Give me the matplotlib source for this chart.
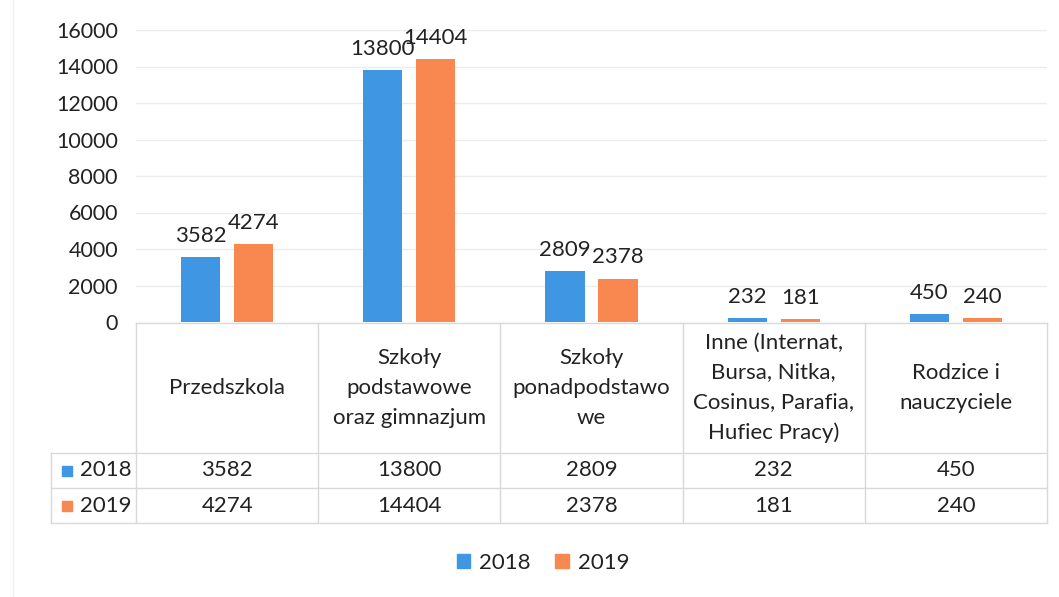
import numpy as np
import matplotlib.pyplot as plt
from matplotlib.patches import Patch
from matplotlib.lines import Line2D

plt.rcParams['font.family'] = ['Lato', 'DejaVu Sans']

categories = ['Przedszkola',
              'Szkoły\npodstawowe\noraz gimnazjum',
              'Szkoły\nponadpodstawo\nwe',
              'Inne (Internat,\nBursa, Nitka,\nCosinus, Parafia,\nHufiec Pracy)',
              'Rodzice i\nnauczyciele']
years = ['2018', '2019']
v2018 = [3582, 13800, 2809, 232, 450]
v2019 = [4274, 14404, 2378, 181, 240]
colors = ['#3f96e2', '#f8884f']
txt = '#222222'
fs = 16

W, H = 1059, 597
fig = plt.figure(figsize=(W / 100, H / 100), dpi=100)


def box(l, t, r, b):
    # pixel box -> figure rect
    return [l / W, 1 - b / H, (r - l) / W, (b - t) / H]


# bars
ax = fig.add_axes(box(136, 30, 1047, 322))
x = np.arange(len(categories))
bw = 0.215
off = 0.145
for vals, c, d in zip([v2018, v2019], colors, [-off, off]):
    bars = ax.bar(x + d, vals, bw, color=c, zorder=2)
    for b, v in zip(bars, vals):
        ax.annotate(str(v), (b.get_x() + b.get_width() / 2, v), xytext=(0, 8),
                    textcoords='offset points', ha='center', va='bottom',
                    fontsize=fs, color=txt)
ax.set_xlim(-0.5, 4.5)
ax.set_ylim(0, 16000)
ax.set_yticks(range(0, 16001, 2000))
ax.tick_params(axis='y', length=0, labelsize=15.5, pad=13, colors=txt)
ax.set_xticks([])
for s in ax.spines.values():
    s.set_visible(False)
ax.grid(axis='y', color='#ececec', lw=1, zorder=0)

# data table
lc = 85 / 182.2
tab = fig.add_axes(box(51, 323, 1047, 523))
tab.set_xlim(-0.5 - lc, 4.5)
tab.set_ylim(200, 0)
tab.axis('off')
hdr, r1, r2 = 130, 165, 200
line = dict(color='#d9d9d9', lw=1, clip_on=False)
tab.plot([-0.5, 4.5], [0, 0], **line)
for yy in (hdr, r1, r2):
    tab.plot([-0.5 - lc, 4.5], [yy, yy], **line)
for xx in np.arange(-0.5, 4.6, 1):
    tab.plot([xx, xx], [0, 200], **line)
tab.plot([-0.5 - lc] * 2, [hdr, 200], **line)

for i, cat in enumerate(categories):
    tab.text(i, hdr / 2, cat, ha='center', va='center', fontsize=fs,
             color=txt, linespacing=1.62)
    tab.text(i, (hdr + r1) / 2, str(v2018[i]), ha='center', va='center',
             fontsize=fs, color=txt)
    tab.text(i, (r1 + r2) / 2, str(v2019[i]), ha='center', va='center',
             fontsize=fs, color=txt)

for yr, c, (a, b) in zip(years, colors, [(hdr, r1), (r1, r2)]):
    tab.scatter([-0.5 - lc + 16 / 182.2], [(a + b) / 2], marker='s', s=60,
                color=c, clip_on=False)
    tab.text(-0.5 - lc + 29 / 182.2, (a + b) / 2, yr, ha='left', va='center',
             fontsize=fs, color=txt)

# legend
fig.legend(handles=[Patch(color=c, label=y) for y, c in zip(years, colors)],
           loc='center', bbox_to_anchor=(543 / W, 1 - 563 / H), ncol=2,
           frameon=False, fontsize=fs, handlelength=0.6, handleheight=0.6,
           handletextpad=0.4, columnspacing=1.1, labelcolor=txt)

fig.add_artist(Line2D([13 / W] * 2, [0, 1], color='#f0f0f0', lw=1))

fig.savefig('out.png', dpi=100)
